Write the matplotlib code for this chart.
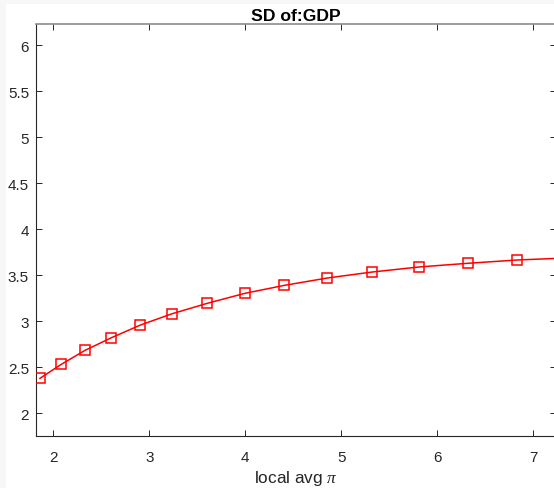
import matplotlib
matplotlib.use('Agg')
import matplotlib.pyplot as plt
from matplotlib.patches import Rectangle

# values
marker_x = [1.861, 2.083, 2.330, 2.604, 2.906, 3.236, 3.601, 3.994,
            4.406, 4.854, 5.320, 5.810, 6.317, 6.834]
marker_y = [2.377, 2.529, 2.681, 2.818, 2.956, 3.079, 3.192, 3.301,
            3.388, 3.468, 3.533, 3.588, 3.628, 3.664]
# line runs on past the last marker to the right edge
line_x = marker_x + [7.35]
line_y = marker_y + [3.686]

x_ticks = [2, 3, 4, 5, 6, 7]
y_ticks = [2, 2.5, 3, 3.5, 4, 4.5, 5, 5.5, 6]
y_ticklabels = ['2', '2.5', '3', '3.5', '4', '4.5', '5', '5.5', '6']

plt.rcParams['font.family'] = ['Liberation Sans', 'DejaVu Sans']
plt.rcParams['mathtext.fontset'] = 'custom'
plt.rcParams['mathtext.it'] = 'Liberation Serif:italic'

W, H = 554, 489
fig = plt.figure(figsize=(W / 100, H / 100), dpi=100, facecolor='white')

# light grey frame at left and top, as in the screenshot
fig.patches.append(Rectangle((0, 0), 6 / W, 1, transform=fig.transFigure,
                             facecolor='#f7f7f7', edgecolor='none', zorder=-10))
fig.patches.append(Rectangle((0, 1 - 5 / H), 1, 5 / H, transform=fig.transFigure,
                             facecolor='#f7f7f7', edgecolor='none', zorder=-10))

left, right = 36 / W, 556 / W
bottom, top = (H - 437) / H, (H - 25) / H
ax = fig.add_axes([left, bottom, right - left, top - bottom])

ax.plot(line_x, line_y, color='#ff0000', linewidth=1.1, zorder=3)
ax.plot(marker_x, marker_y, linestyle='none', marker='s', markersize=6.5,
        markerfacecolor='none', markeredgecolor='#ff0000', markeredgewidth=1.1, zorder=4)

ax.set_xlim(1.82, 7.235)
ax.set_ylim(1.75, 6.23)
ax.set_xticks(x_ticks)
ax.set_yticks(y_ticks)
ax.set_yticklabels(y_ticklabels)

ax.tick_params(direction='in', length=4, width=0.7, colors='#262626',
               labelsize=11, top=True, right=True)
ax.tick_params(axis='x', pad=10)
ax.tick_params(axis='y', pad=5)
for side in ['left', 'bottom', 'right']:
    ax.spines[side].set_color('#262626')
    ax.spines[side].set_linewidth(0.8)
ax.spines['top'].set_color('#8c8c8c')
ax.spines['top'].set_linewidth(1.2)

ax.set_title('SD of:GDP', fontsize=12.6, fontweight='bold', color='black', pad=3)
ax.set_xlabel(r'local avg $\pi$', fontsize=12.4, color='#262626', labelpad=3)

fig.savefig('out.png', dpi=100, facecolor='white')
